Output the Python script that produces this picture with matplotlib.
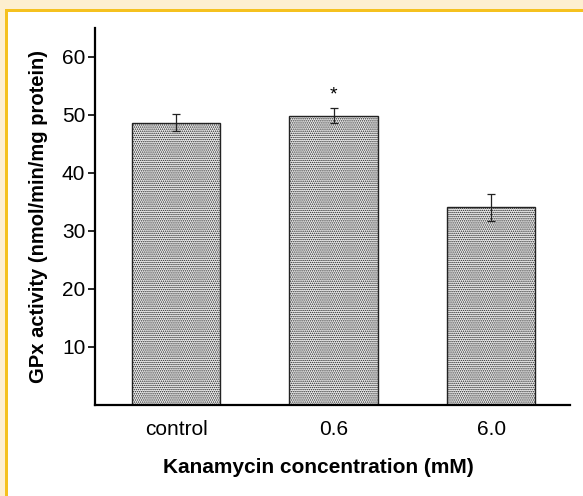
import numpy as np
import matplotlib
matplotlib.use('Agg')
import matplotlib.pyplot as plt
from matplotlib.patches import Rectangle

plt.rcParams['font.family'] = ['Liberation Sans', 'DejaVu Sans']
plt.rcParams['hatch.color'] = '#9a9a9a'
plt.rcParams['hatch.linewidth'] = 0.7

categories = ['control', '0.6', '6.0']
gpx = [48.7, 49.9, 34.1]
err = [1.4, 1.3, 2.3]
star_idx = 1

fig = plt.figure(figsize=(5.83, 4.96), dpi=100)
fig.patch.set_facecolor('white')

# pale yellow frame with gold line (top and left)
fig.patches.append(Rectangle((0, 1 - 10/496), 1, 10/496, transform=fig.transFigure,
                             facecolor='#fdefd0', edgecolor='none', zorder=0))
fig.patches.append(Rectangle((0, 0), 6/583, 1, transform=fig.transFigure,
                             facecolor='#fdefd0', edgecolor='none', zorder=0))
fig.patches.append(Rectangle((6/583, 1 - 12/496), 1, 3/496, transform=fig.transFigure,
                             facecolor='#f5c11f', edgecolor='none', zorder=1))
fig.patches.append(Rectangle((5/583, 0), 3/583, 1 - 9/496, transform=fig.transFigure,
                             facecolor='#f5c11f', edgecolor='none', zorder=1))

ax = fig.add_axes([95/583, (496-405)/496, (570-95)/583, (405-28)/496])
x = np.arange(len(categories))
ax.bar(x, gpx, width=0.56, facecolor='#efefef', edgecolor='#222222',
       linewidth=1.0, hatch='........')
ax.errorbar(x, gpx, yerr=err, fmt='none', ecolor='#222222', elinewidth=0.9,
            capsize=3, capthick=0.9)
ax.text(x[star_idx], gpx[star_idx] + err[star_idx] + 2.2, '*', ha='center',
        va='center', fontsize=14)

ax.set_xlim(-0.514, 2.5)
ax.set_ylim(0, 65)
ax.set_yticks([10, 20, 30, 40, 50, 60])
ax.set_xticks(x)
ax.set_xticklabels(categories)
ax.tick_params(axis='y', labelsize=15, length=5, width=1.2, direction='out', pad=2)
ax.tick_params(axis='x', labelsize=15, length=0, pad=11)
for s in ['top', 'right']:
    ax.spines[s].set_visible(False)
ax.spines['left'].set_linewidth(1.6)
ax.spines['bottom'].set_linewidth(1.6)

ax.set_xlabel('Kanamycin concentration (mM)', fontsize=15, fontweight='bold')
ax.xaxis.set_label_coords(0.47, -0.14)
ax.set_ylabel('GPx activity (nmol/min/mg protein)', fontsize=14.5, fontweight='bold', labelpad=10)

fig.savefig('out.png', dpi=100)
